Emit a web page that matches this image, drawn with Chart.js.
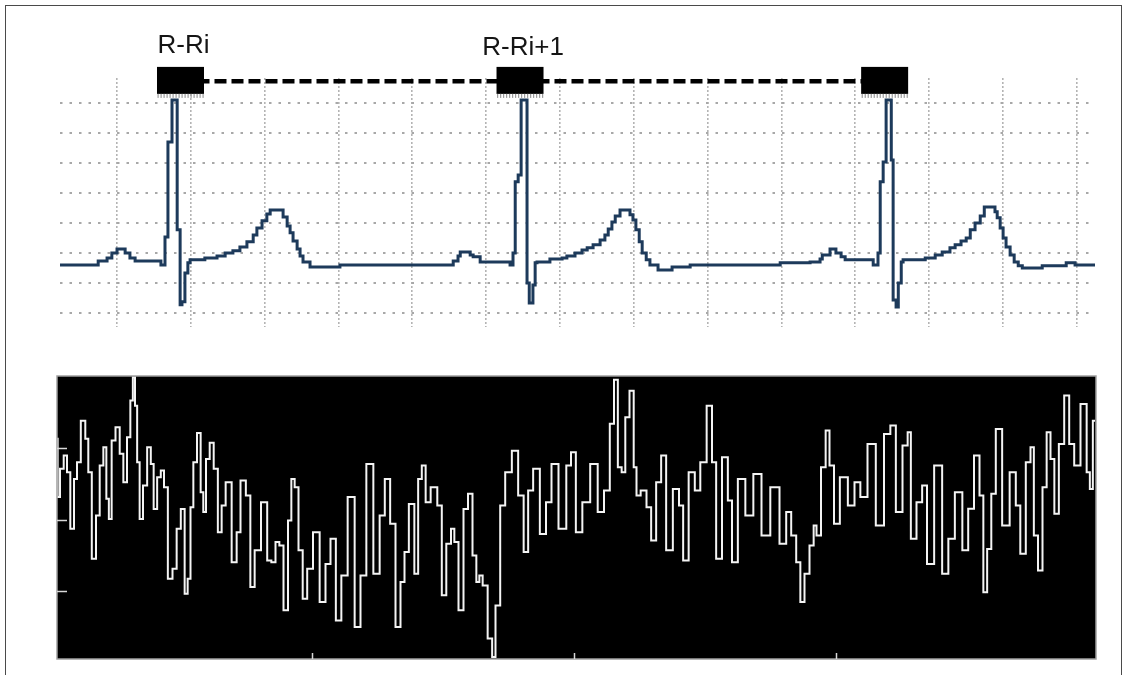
<!DOCTYPE html>
<html>
<head>
<meta charset="utf-8">
<title>ECG RR intervals</title>
<script src="https://cdn.jsdelivr.net/npm/chart.js@4.4.1/dist/chart.umd.min.js"></script>
<style>
    html, body { margin: 0; padding: 0; background: #fff; }
    #page { position: relative; width: 1127px; height: 675px; overflow: hidden; }
    #frame { position: absolute; left: 5px; top: 5px; width: 1117px; height: 700px;
             border: 1.5px solid #4a4a4a; box-sizing: border-box; }
    #ecgBox { position: absolute; left: 0; top: 0; width: 1127px; height: 360px; }
    #noiseBox { position: absolute; left: 0; top: 360px; width: 1127px; height: 315px; }
</style>
</head>
<body>
<div id="page">
    <div id="frame"></div>
    <div id="ecgBox"><canvas id="ecgChart"></canvas></div>
    <div id="noiseBox"><canvas id="noiseChart"></canvas></div>
</div>
<script>
// ---- ECG trace (time in ms, amplitude in grid units) ----
const ecgTimes = [
    37, 149, 173, 186, 200, 222, 235, 249, 319, 330, 338, 349, 363, 371, 376, 384, 392, 398,
    438, 471, 493, 514, 533, 552, 569, 579, 593, 606, 615, 650, 661, 669, 677, 688, 696, 704,
    723, 804,
    1111, 1124, 1130, 1157, 1165, 1184, 1265, 1273, 1279, 1287, 1295, 1311, 1317, 1327, 1333,
    1338, 1373, 1406, 1419, 1441, 1460, 1474, 1490, 1509, 1522, 1531, 1541, 1550, 1563, 1590,
    1598, 1606, 1615, 1623, 1634, 1644, 1666, 1704, 1753,
    1997, 2078, 2105, 2111, 2132, 2148, 2162, 2173, 2249, 2262, 2268, 2276, 2284, 2298, 2303,
    2311, 2317, 2325, 2330, 2390, 2417, 2436, 2457, 2471, 2487, 2501, 2512, 2525, 2539, 2550,
    2579, 2585, 2593, 2601, 2609, 2620, 2631, 2642, 2653, 2707, 2772, 2796, 2850
];
const ecgLevels = [
    1.6, 1.73, 1.83, 2.0, 2.13, 2.0, 1.83, 1.73, 1.6, 2.53, 5.7, 7.1, 2.77, 0.27, 0.37, 1.33, 1.67, 1.77,
    1.83, 1.9, 2.0, 2.07, 2.2, 2.37, 2.6, 2.83, 3.07, 3.3, 3.43, 3.2, 2.9, 2.67, 2.4, 2.13, 1.9, 1.7,
    1.53, 1.6,
    1.73, 1.9, 2.03, 1.93, 1.87, 1.7, 1.6, 2.0, 4.37, 4.6, 7.1, 1.0, 0.33, 0.93, 1.67,
    1.7, 1.8, 1.83, 1.9, 2.0, 2.1, 2.17, 2.27, 2.43, 2.6, 2.8, 3.03, 3.23, 3.43, 3.27,
    3.1, 2.77, 2.37, 2.0, 1.77, 1.6, 1.43, 1.53, 1.6,
    1.67, 1.7, 1.8, 1.93, 2.13, 2.0, 1.87, 1.77, 1.6, 2.0, 4.37, 5.03, 7.1, 5.1, 0.43,
    0.2, 1.0, 1.7, 1.77, 1.83, 1.93, 2.03, 2.17, 2.27, 2.4, 2.5, 2.77, 3.0, 3.23, 3.53,
    3.37, 3.17, 2.83, 2.5, 2.2, 1.93, 1.7, 1.57, 1.5, 1.57, 1.67, 1.6, 1.6
];

// grid of the ECG paper
const gridTimes = [200, 400, 600, 800, 1000, 1200, 1400, 1600, 1800, 2000, 2200, 2400, 2600, 2800];
const gridLevels = [0, 1, 2, 3, 4, 5, 6, 7];

// R peak markers and the RR interval between them
const beatTimes = [372, 1292, 2280];
const beatLabels = ['R-Ri', 'R-Ri+1', ''];
const rrLevel = 7.72;
const boxTop = 8.2;
const boxBottom = 7.3;

// ---- lower panel signal ----
const noiseSamples = [
    0, 1.3, 4.7, 8.7, 11.3, 15.3, 18.7, 21.3, 26.3, 30.3, 32.3, 37.3, 40.7, 44.7, 48, 50.7, 53,
    56.3, 60.7, 64.7, 68, 72, 74.7, 77, 79, 81.3, 84, 88, 92.3, 95.3, 98, 102.3, 105.3, 108.7,
    113, 118, 121.3, 126.3, 129, 132.3, 134.7, 138, 142, 145.3, 147.3, 150.7, 154.7, 158.7, 163,
    166.3, 171, 178.3, 181, 186, 191.7, 195, 200.3, 207.7, 212.7, 216, 221, 223.7, 229.3, 232.7,
    236, 239.3, 243.7, 247.7, 252.7, 259.3, 266, 271, 276, 281.7, 287, 294.3, 301, 306, 312.7,
    320, 325.3, 330.3, 336, 341, 346, 349, 354.7, 360, 362.3, 367.3, 370, 377.3, 383.3, 386.3,
    392.3, 395.7, 399, 404, 409, 413, 418, 420.7, 424, 427.3, 434, 436.3, 440.7, 445.7, 450.7,
    459, 463.3, 470, 472.3, 480, 485.7, 492.3, 496.7, 506.3, 512.3, 515.7, 522, 528.7, 537.7,
    543.7, 550.3, 555.3, 558.7, 563, 566.3, 570.3, 574.7, 578.7, 580.3, 587, 592, 596.3, 602,
    606.3, 612, 619.7, 624.3, 628, 635.3, 640.3, 646.3, 653, 657, 661.3, 668.7, 673, 677, 684.7,
    692, 700.7, 708.3, 718.3, 726.7, 731.7, 736.7, 741.7, 745, 750, 755, 758.3, 760.7, 767.3,
    770, 775, 779, 786.7, 795, 800, 806.7, 814.3, 823.3, 830.7, 836, 841.7, 849.3, 852, 855.7,
    863.3, 867, 873, 881.3, 889, 893.7, 902, 908.7, 913.7, 920.3, 924.7, 928, 932.3, 936.3,
    941.3, 949, 956.3, 961.3, 965.3, 972.3, 974.7, 979, 983, 988, 991.3, 995.7, 999, 1004.7,
    1009.7, 1014.7, 1019.7, 1027.3, 1032, 1033.7, 1038
];
const noiseValues = [
    77.8, 57.2, 67.2, 71.9, 66, 46, 63.6, 69.5, 84.2, 77.8, 66, 35.4, 50.7, 68.4, 74.8, 56.6, 49.5,
    77.2, 81.9, 72.5, 62.5, 78.4, 91.3, 99.6, 89.5, 69.5, 49.5, 61.3, 74.8, 68.9, 53, 64.2, 66.6, 60.7,
    28.4, 31.9, 46, 53, 23.1, 28.4, 53.6, 69.5, 79.9, 58.9, 51.9, 70.7, 76.4, 67.2, 44.8,
    54.2, 62.5, 34.2, 44.8, 63.1, 57.8, 25.4, 38.4, 55.4, 34.8, 34.2, 41.3, 40.1, 17.2, 48.9,
    63.6, 60.7, 38.4, 21.3, 31.9, 44.8, 20.1, 33.6, 42.5, 13.6, 29.5, 57.2, 11.3, 29.5, 68.9,
    30.1, 50.7, 63.6, 47.8, 11.3, 27.2, 37.8, 54.8, 30.1, 63.6, 68.4, 55.4, 60.7, 54.2, 22.5,
    40.7, 46, 41.3, 17.2, 53, 58.4, 36.6, 27.2, 29.5, 26, 7.2, 0.7, 18.9, 54.2, 66,
    73.6, 57.8, 37.8, 59.5, 67.2, 44.2, 55.4, 68.9, 46, 68.4, 73.1, 44.8, 55.4, 68.9,
    51.9, 59.5, 83.1, 98.7, 67.8, 66, 85.4, 94.8, 67.8, 57.8, 59.5, 53.6, 41.9, 62.5,
    71.9, 38.4, 60.1, 54.2, 34.8, 66, 59.5, 69.5, 89.5, 69.5, 35.4, 71.3, 56, 34.2, 63.6,
    50.7, 65.4, 43.6, 60.7, 40.7, 51.9, 43.6, 34.2, 20.1, 30.1, 40.1, 47.2, 43.6, 67.8,
    80.7, 68.4, 47.8, 64.2, 54.2, 62.5, 57.2, 76, 47.2, 79.5, 82.5, 51.9, 75.4, 80.1, 42.5,
    55.4, 61.3, 33.6, 68.4, 30.1, 42.5, 58.9, 38.4, 53.1, 71.9, 57.8, 23.6, 38.9, 58.4,
    81.3, 47.2, 66, 54.2, 37.2, 69.5, 74.8, 43.6, 31.3, 60.7, 80.1, 70.7, 51.3, 76,
    93.1, 76, 68.4, 90.1, 66, 60.1, 84.2
];
const noiseTickSamples = [255, 517, 779];
const noiseTickValues = [24, 49, 74.6];

// Plugin: black R markers, their labels and the hatched strip under each one
const rrMarkerPlugin = {
    id: 'rrMarkers',
    afterDatasetsDraw(chart) {
        const { ctx, scales: { x, y } } = chart;
        const top = y.getPixelForValue(boxTop);
        const bottom = y.getPixelForValue(boxBottom);
        ctx.save();
        beatTimes.forEach((t, i) => {
            const cx = x.getPixelForValue(t);
            ctx.fillStyle = '#000';
            ctx.fillRect(cx - 23.5, top, 47, bottom - top);
            // little grey hatch under the box
            ctx.fillStyle = '#9a9a9a';
            for (let hx = cx - 23; hx < cx + 23; hx += 3) {
                ctx.fillRect(hx, bottom, 1.2, 4);
            }
            if (beatLabels[i]) {
                ctx.font = '26px "Liberation Sans", Arial, sans-serif';
                ctx.textAlign = 'center';
                ctx.textBaseline = 'alphabetic';
                ctx.fillStyle = '#151515';
                ctx.fillText(beatLabels[i], cx + 3, top - 14 + i * 2);
            }
        });
        ctx.restore();
    }
};

// Plugin: black panel, thin frame and inner ticks of the lower chart
const blackPanelPlugin = {
    id: 'blackPanel',
    beforeDatasetsDraw(chart) {
        const { ctx, chartArea: { left, top, right, bottom } } = chart;
        ctx.save();
        ctx.fillStyle = '#000';
        ctx.fillRect(left, top, right - left, bottom - top);
        ctx.restore();
    },
    afterDraw(chart) {
        const { ctx, chartArea: { left, top, right, bottom }, scales: { x, y } } = chart;
        ctx.save();
        ctx.strokeStyle = '#a0a0a0';
        ctx.lineWidth = 1.5;
        ctx.strokeRect(left, top, right - left, bottom - top);
        ctx.strokeStyle = '#d8d8d8';
        noiseTickValues.forEach(v => {
            const py = Math.round(y.getPixelForValue(v)) + 0.5;
            ctx.beginPath();
            ctx.moveTo(left, py);
            ctx.lineTo(left + 10, py);
            ctx.stroke();
        });
        noiseTickSamples.forEach(s => {
            const px = Math.round(x.getPixelForValue(s)) + 0.5;
            ctx.beginPath();
            ctx.moveTo(px, bottom);
            ctx.lineTo(px, bottom - 6);
            ctx.stroke();
        });
        ctx.restore();
    }
};

const ecgChart = new Chart(document.getElementById('ecgChart'), {
    type: 'line',
    data: {
        datasets: [
            {
                label: 'RR',
                data: beatTimes.map(t => ({ x: t, y: rrLevel })),
                borderColor: '#000',
                borderWidth: 4.5,
                borderDash: [12, 5],
                pointRadius: 0,
                order: 1
            },
            {
                label: 'ECG',
                data: ecgTimes.map((t, i) => ({ x: t, y: ecgLevels[i] })),
                stepped: true,
                borderColor: '#1d3a5b',
                borderWidth: 3,
                pointRadius: 0,
                order: 2
            }
        ]
    },
    options: {
        animation: false,
        responsive: true,
        maintainAspectRatio: false,
        layout: { padding: { left: 60, right: 32, top: 78, bottom: 33 } },
        plugins: { legend: { display: false }, tooltip: { enabled: false } },
        scales: {
            x: {
                type: 'linear',
                min: 45.5,
                max: 2850,
                afterBuildTicks(scale) { scale.ticks = gridTimes.map(v => ({ value: v })); },
                ticks: { display: false },
                grid: { color: '#b4b4b4', lineWidth: 1.6, drawTicks: false },
                border: { display: false, dash: [2, 2] }
            },
            y: {
                min: -0.47,
                max: 7.83,
                afterBuildTicks(scale) { scale.ticks = gridLevels.map(v => ({ value: v })); },
                ticks: { display: false },
                grid: { color: '#a8a8a8', lineWidth: 2, drawTicks: false },
                border: { display: false, dash: [2.5, 7] }
            }
        }
    },
    plugins: [rrMarkerPlugin]
});

const noiseChart = new Chart(document.getElementById('noiseChart'), {
    type: 'line',
    data: {
        datasets: [{
            label: 'signal',
            data: noiseSamples.map((s, i) => ({ x: s, y: noiseValues[i] })),
            stepped: 'middle',
            borderColor: '#f4f4f4',
            borderWidth: 2,
            pointRadius: 0
        }]
    },
    options: {
        animation: false,
        responsive: true,
        maintainAspectRatio: false,
        layout: { padding: { left: 57, right: 31, top: 16, bottom: 16 } },
        plugins: { legend: { display: false }, tooltip: { enabled: false } },
        scales: {
            x: { type: 'linear', display: false, min: 0, max: 1039 },
            y: { display: false, min: 0, max: 100 }
        }
    },
    plugins: [blackPanelPlugin]
});
</script>
</body>
</html>
